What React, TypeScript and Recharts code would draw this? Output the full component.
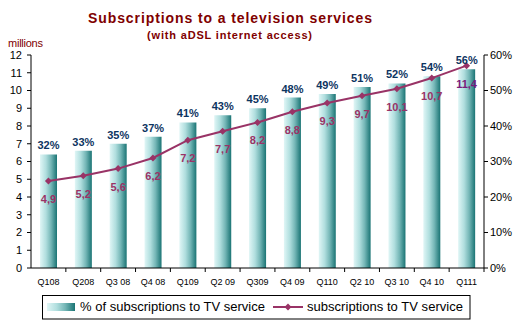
import React from "react";
import { ComposedChart, Bar, Line, XAxis, YAxis, LabelList } from "recharts";

const categories = ["Q108", "Q208", "Q3 08", "Q4 08", "Q109", "Q2 09", "Q309", "Q4 09", "Q110", "Q2 10", "Q3 10", "Q4 10", "Q111"];
const pctValues = [32, 33, 35, 37, 41, 43, 45, 48, 49, 51, 52, 54, 56];
const subsValues = [4.9, 5.2, 5.6, 6.2, 7.2, 7.7, 8.2, 8.8, 9.3, 9.7, 10.1, 10.7, 11.4];
const leftTicks = [0, 1, 2, 3, 4, 5, 6, 7, 8, 9, 10, 11, 12];
const rightTicks = [0, 10, 20, 30, 40, 50, 60];

const data = categories.map((c, i) => ({ cat: c, pct: pctValues[i], subs: subsValues[i] }));

const W = 525;
const H = 325;
const LEFT_W = 31;
const RIGHT_W = 41;
const PLOT_W = W - LEFT_W - RIGHT_W;
const BAND = PLOT_W / categories.length;
const FONT = "'Liberation Sans', Arial, sans-serif";

const XTick = (props: any) => {
  const { x, y, payload } = props;
  return (
    <g>
      <line x1={x + BAND / 2} x2={x + BAND / 2} y1={y} y2={y + 4} stroke="#000" />
      <text x={x} y={y + 17} textAnchor="middle" fontSize={9} fontFamily={FONT} fill="#000">
        {payload.value}
      </text>
    </g>
  );
};

const PctLabel = (props: any) => {
  const { x, y, width, value } = props;
  return (
    <text x={x + width / 2} y={y - 5} textAnchor="middle" fontSize={11} fontWeight="bold" fontFamily={FONT} fill="#0d3461">
      {value}%
    </text>
  );
};

const SubsLabel = (props: any) => {
  const { x, y, value, index } = props;
  return (
    <text x={x} y={y + 22} textAnchor="middle" fontSize={11} fontWeight="bold" fontFamily={FONT} fill={index === subsValues.length - 1 ? "#7a1a7a" : "#993366"}>
      {String(value).replace(".", ",")}
    </text>
  );
};

const Diamond = (props: any) => {
  const { cx, cy } = props;
  return <path d={`M${cx},${cy - 3.5} L${cx + 3.5},${cy} L${cx},${cy + 3.5} L${cx - 3.5},${cy} Z`} fill="#993366" />;
};

export default function App() {
  return (
    <div style={{ position: "absolute", left: 0, top: 0, width: W, height: H, background: "#fff" }}>
      <ComposedChart width={W} height={H} data={data} margin={{ top: 55, right: 0, bottom: 35, left: 0 }}>
        <defs>
          <linearGradient id="barGrad" x1="0" y1="0" x2="1" y2="0">
            <stop offset="0" stopColor="#e0f6f6" />
            <stop offset="0.35" stopColor="#b0dede" />
            <stop offset="0.65" stopColor="#74b6b6" />
            <stop offset="1" stopColor="#1a7474" />
          </linearGradient>
        </defs>
        <XAxis
          dataKey="cat"
          xAxisId={0}
          height={22}
          interval={0}
          tickLine={false}
          tickSize={0}
          tickMargin={0}
          axisLine={{ stroke: "#000" }}
          tick={<XTick />}
        />
        <YAxis
          yAxisId="left"
          orientation="left"
          width={LEFT_W}
          domain={[0, 12]}
          ticks={leftTicks}
          interval={0}
          tickSize={4}
          tickMargin={5}
          axisLine={{ stroke: "#000" }}
          tickLine={{ stroke: "#000" }}
          tick={{ fontSize: 11, fill: "#000", fontFamily: FONT }}
        />
        <YAxis
          yAxisId="right"
          orientation="right"
          width={RIGHT_W}
          domain={[0, 60]}
          ticks={rightTicks}
          interval={0}
          tickSize={4}
          tickMargin={2}
          tickFormatter={(v: number) => `${v}%`}
          axisLine={{ stroke: "#000" }}
          tickLine={{ stroke: "#000" }}
          tick={{ fontSize: 11, fill: "#000", fontFamily: FONT }}
        />
        <Bar yAxisId="right" dataKey="pct" barSize={17} fill="url(#barGrad)" isAnimationActive={false}>
          <LabelList dataKey="pct" content={<PctLabel />} />
        </Bar>
        <Line
          yAxisId="left"
          dataKey="subs"
          stroke="#993366"
          strokeWidth={2}
          dot={<Diamond />}
          activeDot={false}
          isAnimationActive={false}
        >
          <LabelList dataKey="subs" content={<SubsLabel />} />
        </Line>
      </ComposedChart>
      <svg width={W} height={H} style={{ position: "absolute", left: 0, top: 0, pointerEvents: "none" }}>
        <defs>
          <linearGradient id="legGrad" x1="0" y1="0" x2="1" y2="0">
            <stop offset="0" stopColor="#e0f6f6" />
            <stop offset="0.35" stopColor="#b0dede" />
            <stop offset="0.65" stopColor="#74b6b6" />
            <stop offset="1" stopColor="#1a7474" />
          </linearGradient>
        </defs>
        <text x={88} y={23} fontSize={14} fontWeight="bold" fontFamily={FONT} fill="#800000" textLength={284} lengthAdjust="spacing">
          Subscriptions to a television services
        </text>
        <text x={147} y={38.5} fontSize={11} fontWeight="bold" fontFamily={FONT} fill="#800000" textLength={165} lengthAdjust="spacing">
          (with aDSL internet access)
        </text>
        <text x={8} y={47} fontSize={11} fontFamily={FONT} fill="#800000" textLength={35} lengthAdjust="spacing">
          millions
        </text>
        <rect x={42.5} y={295.5} width={427.5} height={23.5} fill="#fff" stroke="#000" strokeWidth={1} />
        <rect x={47} y={303} width={28} height={8} fill="url(#legGrad)" />
        <text x={80} y={311} fontSize={13} fontFamily={FONT} fill="#000" textLength={185} lengthAdjust="spacing">
          % of subscriptions to TV service
        </text>
        <line x1={273} x2={303} y1={307} y2={307} stroke="#993366" strokeWidth={2} />
        <path d="M288,303.5 L291.5,307 L288,310.5 L284.5,307 Z" fill="#993366" />
        <text x={307} y={311} fontSize={13} fontFamily={FONT} fill="#000" textLength={156} lengthAdjust="spacing">
          subscriptions to TV service
        </text>
      </svg>
    </div>
  );
}
